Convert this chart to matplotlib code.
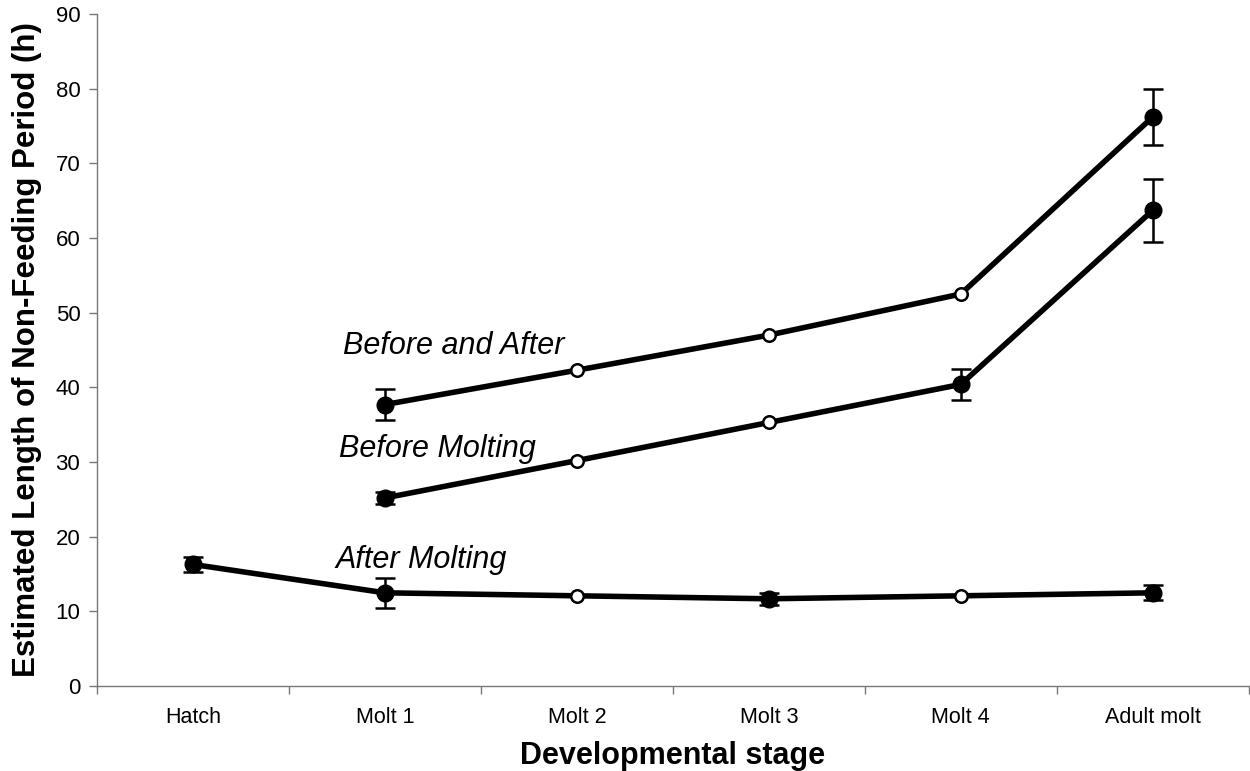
import matplotlib.pyplot as plt
import numpy as np

plt.rcParams['font.family'] = ['Liberation Sans', 'DejaVu Sans']

stages = ["Hatch", "Molt 1", "Molt 2", "Molt 3", "Molt 4", "Adult molt"]

# Before and After (starts at Molt 1)
ba_vals = [37.7, 42.3, 47.0, 52.5, 76.2]
ba_err = [2.1, 0, 0, 0, 3.8]
ba_filled = [True, False, False, False, True]

# Before Molting (starts at Molt 1)
bm_vals = [25.2, 30.2, 35.3, 40.4, 63.7]
bm_err = [0.8, 0, 0, 2.1, 4.2]
bm_filled = [True, False, False, True, True]

# After Molting (starts at Hatch)
am_vals = [16.3, 12.5, 12.1, 11.7, 12.1, 12.5]
am_err = [1.0, 2.0, 0, 0.8, 0, 1.0]
am_filled = [True, True, False, True, False, True]

labels = ["Before and After", "Before Molting", "After Molting"]
label_pos = [(0.78, 45.5), (0.76, 31.8), (0.74, 16.9)]

fig = plt.figure(figsize=(12.5, 7.71), dpi=100)
ax = fig.add_axes([0.0776, 0.110, 0.9214, 0.872])

series = [
    (np.arange(1, 6), ba_vals, ba_err, ba_filled),
    (np.arange(1, 6), bm_vals, bm_err, bm_filled),
    (np.arange(0, 6), am_vals, am_err, am_filled),
]

for x, y, e, filled in series:
    x = np.array(x)
    y = np.array(y)
    e = np.array(e)
    ax.plot(x, y, color='black', lw=4, zorder=2)
    has = e > 0
    ax.errorbar(x[has], y[has], yerr=e[has], fmt='none', ecolor='black',
                elinewidth=1.8, capsize=7, capthick=1.8, zorder=3)
    f = np.array(filled)
    ax.plot(x[f], y[f], 'o', ms=12, mfc='black', mec='black', zorder=4)
    ax.plot(x[~f], y[~f], 'o', ms=9, mfc='white', mec='black', mew=1.8, zorder=4)

for txt, (tx, ty) in zip(labels, label_pos):
    ax.text(tx, ty, txt, fontsize=22, style='italic', ha='left', va='center')

ax.set_xlim(-0.5, 5.5)
ax.set_ylim(0, 90)
ax.set_yticks(np.arange(0, 91, 10))
ax.set_xticks(np.arange(0, 6))
ax.set_xticklabels(stages, fontsize=15.5)
ax.set_xticks(np.arange(-0.5, 5.6, 1), minor=True)
ax.tick_params(axis='x', which='major', length=0, pad=15)
ax.tick_params(axis='x', which='minor', length=6, color='#777777', width=1)
ax.tick_params(axis='y', labelsize=16, length=6, color='#777777', width=1, pad=6)

for s in ['top', 'right']:
    ax.spines[s].set_visible(False)
for s in ['left', 'bottom']:
    ax.spines[s].set_color('#777777')
    ax.spines[s].set_linewidth(1)

ax.set_xlabel("Developmental stage", fontsize=22, fontweight='bold', labelpad=9)
ax.set_ylabel("Estimated Length of Non-Feeding Period (h)", fontsize=22.5,
              fontweight='bold', labelpad=10)

fig.savefig("out.png", dpi=100)
